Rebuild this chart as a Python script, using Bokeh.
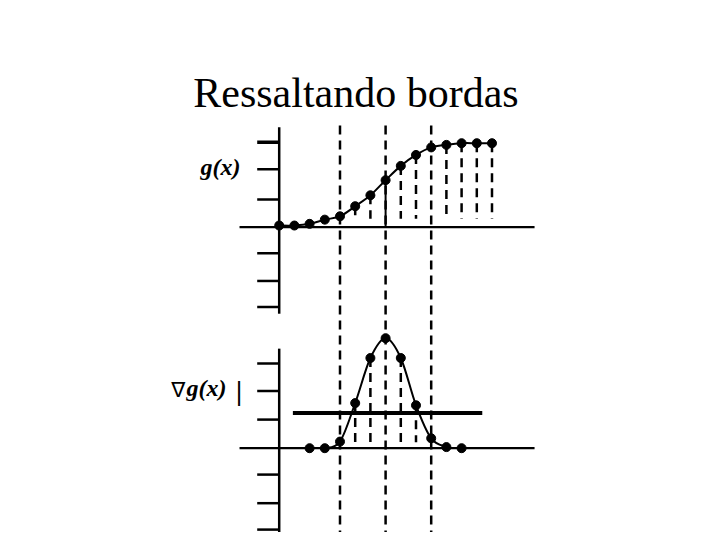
import math
from bokeh.plotting import figure
from bokeh.models import Range1d, Label
from bokeh.embed import file_html
from bokeh.resources import INLINE

# ---------------- data ----------------
sample_idx = list(range(15))
g_values = [0.02, 0.02, 0.04, 0.09, 0.13, 0.25, 0.38, 0.56, 0.73, 0.86, 0.95, 0.98, 1.0, 1.0, 1.0]

grad_idx = [2, 3, 4, 5, 6, 7, 8, 9, 10, 11, 12]
grad_values = [0.0, 0.0, 0.06, 0.41, 0.82, 1.0, 0.82, 0.39, 0.09, 0.01, 0.0]

upper_ticks = [0.69, 0.33, -0.31, -0.64, -0.95]
upper_top_tick = [1.01]
lower_ticks = [0.77, 0.52, 0.26, -0.24, -0.50, -0.74]

edge_lines = [4, 7, 10]           # long dashed verticals
upper_drops = [5, 6, 8, 9, 11, 12, 13, 14]
lower_drops = [5, 6, 8, 9]
threshold = 0.32
threshold_span = [0.9, 13.36]

title_text = "Ressaltando bordas"
upper_label = "g(x)"
lower_label = "g(x)"

# ---------------- figure ----------------
W, H = 712, 532
p = figure(width=W, height=H, output_backend="svg", toolbar_location=None,
           x_range=Range1d(-18.336, 28.507), y_range=Range1d(-3.6345, 2.6988),
           x_axis_type=None, y_axis_type=None, min_border=0)
p.extra_y_ranges = {"grad": Range1d(-0.7664, 4.07)}
p.grid.visible = False
p.outline_line_color = None
p.background_fill_color = "white"
p.border_fill_color = "white"

BLACK = "black"

# axes of the upper panel
p.segment(x0=[0], y0=[1.19], x1=[0], y1=[-1.03], line_color=BLACK, line_width=2.5)
p.segment(x0=[-2.61], y0=[0], x1=[16.8], y1=[0], line_color=BLACK, line_width=2.2)
p.ray(x=[0] * len(upper_ticks), y=upper_ticks, length=22, length_units="screen",
      angle=math.pi, line_color=BLACK, line_width=2.5)
p.ray(x=[0], y=upper_top_tick, length=22, length_units="screen",
      angle=math.pi, line_color=BLACK, line_width=3.5)

# axes of the lower panel
p.segment(x0=[0], y0=[0.905], x1=[0], y1=[-0.78], line_color=BLACK, line_width=2.5,
          y_range_name="grad")
p.segment(x0=[-2.61], y0=[0], x1=[16.8], y1=[0], line_color=BLACK, line_width=2.2,
          y_range_name="grad")
p.ray(x=[0] * len(lower_ticks), y=lower_ticks, length=22, length_units="screen",
      angle=math.pi, line_color=BLACK, line_width=2.5, y_range_name="grad")

# long dashed lines through both panels
p.segment(x0=edge_lines, y0=[1.21] * 3, x1=edge_lines, y1=[-3.8] * 3,
          line_color=BLACK, line_width=2.5, line_dash="9 6")

# solid drop at the centre sample
c = 7
p.segment(x0=[c], y0=[g_values[c]], x1=[c], y1=[0], line_color=BLACK, line_width=2)

# short dashed drops
p.segment(x0=upper_drops, y0=[g_values[i] for i in upper_drops],
          x1=upper_drops, y1=[0.10] * len(upper_drops),
          line_color=BLACK, line_width=2.5, line_dash="9 6")
gmap = dict(zip(grad_idx, grad_values))
p.segment(x0=lower_drops, y0=[gmap[i] for i in lower_drops],
          x1=lower_drops, y1=[0.055] * len(lower_drops),
          line_color=BLACK, line_width=2.5, line_dash="9 6", y_range_name="grad")


def smooth(xs, ys):
    n = len(xs)
    out = dict(x0=[], y0=[], x1=[], y1=[], cx0=[], cy0=[], cx1=[], cy1=[])
    for k in range(n - 1):
        a = max(k - 1, 0)
        b = min(k + 2, n - 1)
        out["x0"].append(xs[k]); out["y0"].append(ys[k])
        out["x1"].append(xs[k + 1]); out["y1"].append(ys[k + 1])
        out["cx0"].append(xs[k] + (xs[k + 1] - xs[a]) / 6)
        out["cy0"].append(ys[k] + (ys[k + 1] - ys[a]) / 6)
        out["cx1"].append(xs[k + 1] - (xs[b] - xs[k]) / 6)
        out["cy1"].append(ys[k + 1] - (ys[b] - ys[k]) / 6)
    return out


p.bezier(line_color=BLACK, line_width=2, **smooth(sample_idx, g_values))
p.bezier(line_color=BLACK, line_width=2, y_range_name="grad",
         **smooth(grad_idx[1:10], grad_values[1:10]))

# threshold
p.segment(x0=[threshold_span[0]], y0=[threshold], x1=[threshold_span[1]], y1=[threshold],
          line_color=BLACK, line_width=4, y_range_name="grad")

# dots
p.scatter(sample_idx, g_values, size=9, color=BLACK)
p.scatter(grad_idx, grad_values, size=9, color=BLACK, y_range_name="grad")

# texts
p.add_layout(Label(x=5.05, y=1.60, text=title_text, text_align="center",
                   text_baseline="alphabetic", text_font="Liberation Serif",
                   text_font_size="42px", text_color=BLACK))
p.add_layout(Label(x=-5.18, y=0.72, text=upper_label, text_align="left",
                   text_baseline="alphabetic", text_font="Liberation Serif",
                   text_font_style="bold italic", text_font_size="24px",
                   text_color=BLACK))
p.add_layout(Label(x=-7.1, y=0.53, text="\u2207", text_align="left",
                   text_baseline="alphabetic", text_font="DejaVu Sans",
                   text_font_size="21px", text_color=BLACK, y_range_name="grad"))
p.add_layout(Label(x=-6.1, y=0.55, text=lower_label, text_align="left",
                   text_baseline="alphabetic", text_font="Liberation Serif",
                   text_font_style="bold italic", text_font_size="24px",
                   text_color=BLACK, y_range_name="grad"))
p.add_layout(Label(x=-2.65, y=0.515, text="|", text_align="center",
                   text_baseline="alphabetic", text_font="DejaVu Sans",
                   text_font_size="24px", text_color=BLACK, y_range_name="grad"))

open("out.html", "w").write(file_html(p, INLINE))
